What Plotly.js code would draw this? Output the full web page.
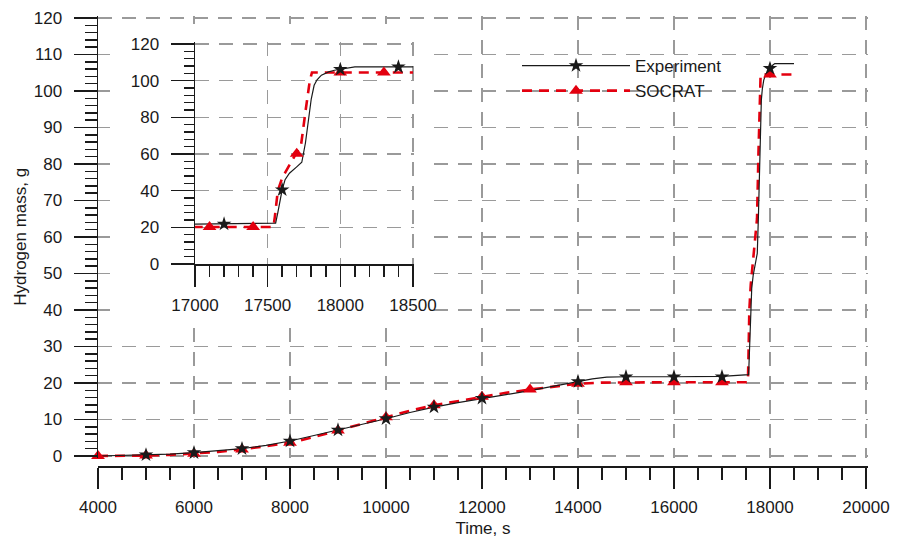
<!DOCTYPE html>
<html>
<head>
<meta charset="utf-8">
<script src="https://cdn.plot.ly/plotly-3.0.1.min.js"></script>
<style>
  html, body { margin: 0; padding: 0; background: #fff; }
  #chart { width: 897px; height: 545px; }
</style>
</head>
<body>
<div id="chart"></div>
<script>
// Hydrogen mass (g) versus time (s): measured curve and SOCRAT calculation.

// Experiment: continuous record
const expTime = [4000, 4500, 5000, 5500, 6000, 6500, 7000, 7500, 8000, 8500, 9000, 9500,
  10000, 10500, 11000, 11500, 12000, 12500, 13000, 13500, 14000, 14300, 14600, 15000,
  16000, 17000, 17555, 17570, 17585, 17600, 17620, 17650, 17700, 17735, 17760, 17780,
  17800, 17820, 17840, 17870, 17920, 17960, 18000, 18050, 18100, 18500];
const expMass = [0.0, 0.1, 0.3, 0.5, 0.9, 1.4, 2.0, 2.9, 4.1, 5.6, 7.1, 8.7,
  10.2, 11.9, 13.4, 14.6, 15.8, 16.8, 17.9, 19.2, 20.4, 21.1, 21.6, 21.7,
  21.7, 21.8, 22.3, 28.0, 35.0, 40.5, 46.0, 49.5, 53.0, 55.5, 66.0, 79.0,
  90.0, 97.5, 100.5, 103.0, 104.8, 105.7, 106.2, 107.0, 107.5, 107.5];

// Experiment: marked points, full time range
const expMarkTime = [5000, 6000, 7000, 8000, 9000, 10000, 11000, 12000, 14000, 15000, 16000, 17000, 18000];
const expMarkMass = [0.3, 0.9, 2.0, 4.1, 7.1, 10.2, 13.4, 15.8, 20.4, 21.7, 21.7, 21.7, 106.2];

// Experiment: marked points, zoomed window
const expZoomTime = [17200, 17600, 18000, 18400];
const expZoomMass = [21.8, 40.5, 106.2, 107.5];

// SOCRAT: continuous result
const socTime = [4000, 4500, 5000, 5500, 6000, 6500, 7000, 7500, 8000, 8500, 9000, 9500,
  10000, 10500, 11000, 11500, 12000, 12500, 13000, 13500, 14000, 14500, 15000, 16000,
  17000, 17540, 17550, 17560, 17570, 17600, 17650, 17700, 17730, 17760, 17790, 17805, 18500];
const socMass = [0.0, 0.0, 0.1, 0.3, 0.6, 1.1, 1.8, 2.6, 3.6, 5.2, 7.0, 8.9,
  10.6, 12.4, 13.9, 15.1, 16.2, 17.3, 18.2, 19.1, 19.8, 20.1, 20.2, 20.2,
  20.2, 20.2, 26.0, 34.0, 40.0, 47.0, 54.0, 60.2, 65.0, 83.0, 100.0, 104.5, 104.5];

// SOCRAT: marked points, full time range
const socMarkTime = [4000, 5000, 6000, 7000, 8000, 9000, 10000, 11000, 12000, 13000, 14000, 15000, 16000, 17000, 18000];
const socMarkMass = [0.0, 0.1, 0.6, 1.8, 3.6, 7.0, 10.6, 13.9, 16.2, 18.2, 19.8, 20.2, 20.2, 20.2, 104.5];

// SOCRAT: marked points, zoomed window
const socZoomTime = [17100, 17400, 17700, 18000, 18300];
const socZoomMass = [20.2, 20.2, 60.2, 104.5, 104.5];

const seriesNames = ['Experiment', 'SOCRAT'];
const xTitle = 'Time, s';
const yTitle = 'Hydrogen mass, g';

// ---- styling ----
const FONT = 'Liberation Sans, Arial, sans-serif';
const INK = '#1a1a1a';
const GRID = '#9a9a9a';
const RED = '#e3000f';

const expLine = { color: INK, width: 1.2 };
const socLine = { color: RED, width: 2.6, dash: '10px,7px' };
const starMarker = { symbol: 'star', size: 11, color: INK, line: { width: 0 } };
const triMarker = { symbol: 'triangle-up', size: 12, color: RED, line: { width: 0 } };

// page-pixel helpers for domains
const W = 897, H = 545;
const fx = p => p / W;
const fy = p => 1 - p / H;

const axisBase = {
  showline: true, linecolor: INK, linewidth: 1.5,
  ticks: 'outside', tickcolor: INK, tickwidth: 1.5,
  tickfont: { family: FONT, size: 17, color: INK },
  tickformat: 'd',
  zeroline: false, fixedrange: true,
  gridcolor: GRID, gridwidth: 1.3, griddash: '14px,10px'
};

const hidden = {
  showline: false, showgrid: false, zeroline: false, ticks: '',
  showticklabels: false, fixedrange: true
};

const traces = [
  // main view
  { x: socTime, y: socMass, xaxis: 'x', yaxis: 'y', mode: 'lines', line: socLine, showlegend: false, hoverinfo: 'skip' },
  { x: expTime, y: expMass, xaxis: 'x', yaxis: 'y', mode: 'lines', line: expLine, showlegend: false, hoverinfo: 'skip' },
  { x: socMarkTime, y: socMarkMass, xaxis: 'x', yaxis: 'y', mode: 'markers', marker: triMarker, showlegend: false, cliponaxis: false },
  { x: expMarkTime, y: expMarkMass, xaxis: 'x', yaxis: 'y', mode: 'markers', marker: starMarker, showlegend: false, cliponaxis: false },
  // legend entries (on the blank panel that backs the zoomed window)
  { x: [null], y: [null], xaxis: 'x2', yaxis: 'y2', mode: 'lines+markers', name: seriesNames[0], line: expLine, marker: starMarker },
  { x: [null], y: [null], xaxis: 'x2', yaxis: 'y2', mode: 'lines+markers', name: seriesNames[1], line: socLine, marker: triMarker },
  // zoomed window
  { x: socTime, y: socMass, xaxis: 'x3', yaxis: 'y3', mode: 'lines', line: socLine, showlegend: false, hoverinfo: 'skip' },
  { x: expTime, y: expMass, xaxis: 'x3', yaxis: 'y3', mode: 'lines', line: expLine, showlegend: false, hoverinfo: 'skip' },
  { x: socZoomTime, y: socZoomMass, xaxis: 'x3', yaxis: 'y3', mode: 'markers', marker: triMarker, showlegend: false },
  { x: expZoomTime, y: expZoomMass, xaxis: 'x3', yaxis: 'y3', mode: 'markers', marker: starMarker, showlegend: false }
];

const layout = {
  width: W, height: H,
  margin: { l: 0, r: 0, t: 0, b: 0 },
  paper_bgcolor: '#fff',
  plot_bgcolor: '#fff',
  font: { family: FONT, size: 17, color: INK },
  showlegend: true,
  legend: {
    x: fx(517), y: fy(48), xanchor: 'left', yanchor: 'top',
    bgcolor: 'rgba(255,255,255,0)', borderwidth: 0,
    font: { family: FONT, size: 17, color: INK },
    itemwidth: 108, tracegroupgap: 0
  },
  // main time axis, set a few pixels below the zero line
  xaxis: Object.assign({}, axisBase, {
    domain: [fx(98), fx(867.9)], range: [4000, 20040],
    anchor: 'free', position: fy(466),
    tick0: 0, dtick: 2000, ticklen: 21, ticklabelstandoff: 4,
    minor: { dtick: 500, ticklen: 12, tickwidth: 1.5, tickcolor: INK, showgrid: false },
    showgrid: true,
    title: { text: xTitle, font: { family: FONT, size: 17, color: INK }, standoff: 6 }
  }),
  yaxis: Object.assign({}, axisBase, {
    domain: [fy(457.8), fy(15.8)], range: [-0.5, 120.6], anchor: 'x',
    tick0: 0, dtick: 10, ticklen: 23, ticklabelstandoff: 8,
    minor: { dtick: 2, ticklen: 12, tickwidth: 1.5, tickcolor: INK, showgrid: false },
    showgrid: true,
    title: { text: yTitle, font: { family: FONT, size: 17, color: INK }, standoff: 3 }
  }),
  // blank white panel behind the zoomed window
  xaxis2: Object.assign({}, hidden, { domain: [fx(110), fx(432)], range: [0, 1], anchor: 'y2' }),
  yaxis2: Object.assign({}, hidden, { domain: [fy(318), fy(24)], range: [0, 1], anchor: 'x2' }),
  // zoomed window
  xaxis3: Object.assign({}, axisBase, {
    domain: [fx(195), fx(414.4)], range: [17000, 18510], anchor: 'y3',
    tick0: 17000, dtick: 500, ticklen: 21, ticklabelstandoff: 4,
    minor: { dtick: 100, ticklen: 11, tickwidth: 1.5, tickcolor: INK, showgrid: false },
    showgrid: true
  }),
  yaxis3: Object.assign({}, axisBase, {
    domain: [fy(264), fy(42.2)], range: [0, 121], anchor: 'x3',
    tick0: 0, dtick: 20, ticklen: 23, ticklabelstandoff: 8,
    minor: { dtick: 4, ticklen: 10, tickwidth: 1.5, tickcolor: INK, showgrid: false },
    showgrid: true
  })
};

Plotly.newPlot('chart', traces, layout, { staticPlot: true, displayModeBar: false });
</script>
</body>
</html>
